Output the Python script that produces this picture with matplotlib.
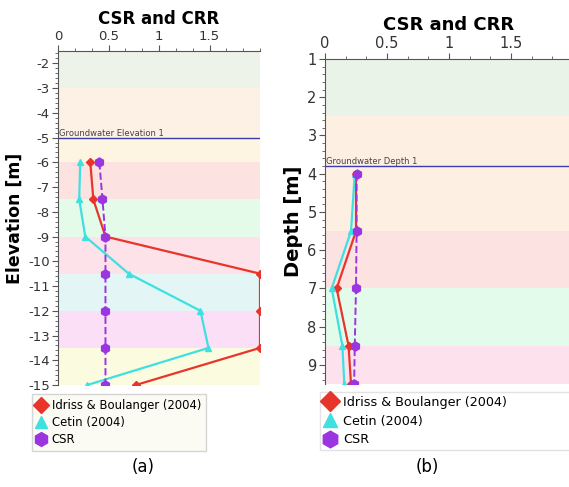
import matplotlib
matplotlib.use("Agg")
import matplotlib.pyplot as plt
from matplotlib.lines import Line2D
from matplotlib.ticker import FixedLocator, MultipleLocator

plt.rcParams["axes.unicode_minus"] = False

# panel (a): elevation profile
elev_a = [-6, -7.5, -9, -10.5, -12, -13.5, -15]
idriss_a = [0.32, 0.35, 0.47, 2.0, 2.0, 2.0, 0.77]
cetin_a = [0.22, 0.21, 0.27, 0.70, 1.41, 1.49, 0.29]
csr_a = [0.41, 0.44, 0.47, 0.47, 0.47, 0.47, 0.47]
bands_a = [-1.5, -3, -5, -6, -7.5, -9, -10.5, -12, -13.5, -15]
gw_a = -5

# panel (b): depth profile
depth_b = [4, 5.5, 7, 8.5, 9.5]
idriss_b = [0.25, 0.25, 0.094, 0.19, 0.21]
cetin_b = [0.24, 0.21, 0.054, 0.14, 0.156]
csr_b = [0.255, 0.255, 0.25, 0.24, 0.235]
bands_b = [1, 2.5, 5.5, 7, 8.5, 9.5]
gw_b = 3.8

xticks = [0, 0.5, 1, 1.5]
xticklabels = ["0", "0.5", "1", "1.5"]

cols_a = ["#eef3ea", "#fdf0e4", "#fdf5e2", "#fde2e2", "#e5fbea",
          "#fde2ea", "#e3f5f5", "#fadff7", "#fbfbe0"]
cols_b = ["#eaf3e8", "#fdf0e2", "#fde2e2", "#e3fbea", "#fde2ee"]

RED = "#e8352b"
CYAN = "#3ee0e0"
PURPLE = "#9b35e0"

fig = plt.figure(figsize=(5.69, 4.87), dpi=100)
ax1 = fig.add_axes([58 / 569, 1 - 385 / 487, 202 / 569, 334 / 487])
ax2 = fig.add_axes([325 / 569, 1 - 384 / 487, 248 / 569, 325 / 487])


def setup(ax, bands, cols, ylab, gw, gwlab, ylim, title_size, ylab_size,
          tick_size):
    for i in range(len(bands) - 1):
        ax.axhspan(bands[i], bands[i + 1], color=cols[i], lw=0, zorder=0)
    ax.axhline(gw, color="#3c3cb0", lw=1.0, zorder=1)
    ax.text(0.01, gw, gwlab, fontsize=6.0, color="#444444", va="bottom",
            ha="left")
    ax.set_xlim(0, 2.0)
    ax.set_ylim(*ylim)
    ax.xaxis.tick_top()
    ax.xaxis.set_label_position("top")
    ax.xaxis.set_major_locator(FixedLocator(xticks))
    ax.set_xticklabels(xticklabels)
    ax.xaxis.set_minor_locator(MultipleLocator(1 / 6))
    ax.yaxis.set_major_locator(MultipleLocator(1))
    ax.yaxis.set_minor_locator(MultipleLocator(0.2))
    ax.set_xlabel("CSR and CRR", fontsize=title_size, fontweight="bold",
                  labelpad=4)
    ax.set_ylabel(ylab, fontsize=ylab_size, fontweight="bold", labelpad=3)
    ax.tick_params(which="major", labelsize=tick_size, length=4,
                   color="#555555", labelcolor="#333333", pad=2)
    ax.tick_params(which="minor", length=2, color="#555555")
    for s in ["right", "bottom"]:
        ax.spines[s].set_visible(False)
    for s in ["left", "top"]:
        ax.spines[s].set_color("#555555")


def draw(ax, y, idr, cet, csr, ms):
    ax.plot(idr, y, color=RED, lw=1.6, marker="D", ms=ms, zorder=3)
    ax.plot(cet, y, color=CYAN, lw=1.6, marker="^", ms=ms, zorder=3)
    ax.plot(csr, y, color=PURPLE, lw=1.4, ls="--", marker="h", ms=ms + 2,
            zorder=4)


setup(ax1, bands_a, cols_a, "Elevation [m]", gw_a, "Groundwater Elevation 1",
      (-15, -1.5), 12, 12.5, 9.5)
draw(ax1, elev_a, idriss_a, cetin_a, csr_a, 4.5)

setup(ax2, bands_b, cols_b, "Depth [m]", gw_b, "Groundwater Depth 1",
      (9.5, 1), 13, 14, 10.5)
draw(ax2, depth_b, idriss_b, cetin_b, csr_b, 4.5)

labels = ["Idriss & Boulanger (2004)", "Cetin (2004)", "CSR"]


def handles(ms):
    return [Line2D([], [], ls="none", marker="D", color=RED, ms=ms),
            Line2D([], [], ls="none", marker="^", color=CYAN, ms=ms),
            Line2D([], [], ls="none", marker="h", color=PURPLE, ms=ms + 2)]


fig.legend(handles(8), labels, loc="upper left",
           bbox_to_anchor=(32 / 569, 1 - 394 / 487), fontsize=8.4,
           frameon=True, fancybox=False, facecolor="#fbfbf0",
           edgecolor="#cccccc", handlelength=0.8, handletextpad=0.5,
           labelspacing=0.35, borderpad=0.4, borderaxespad=0)
fig.legend(handles(10), labels, loc="upper left",
           bbox_to_anchor=(320 / 569, 1 - 392 / 487, 260 / 569, 0),
           mode="expand", fontsize=9.2,
           frameon=True, fancybox=False, facecolor="white",
           edgecolor="#dddddd", handlelength=0.9, handletextpad=0.6,
           labelspacing=0.45, borderpad=0.3, borderaxespad=0)

fig.text(143 / 569, 1 - 467 / 487, "(a)", fontsize=12, ha="center",
         va="center")
fig.text(427 / 569, 1 - 467 / 487, "(b)", fontsize=12, ha="center",
         va="center")

fig.savefig("out.png", dpi=100)
